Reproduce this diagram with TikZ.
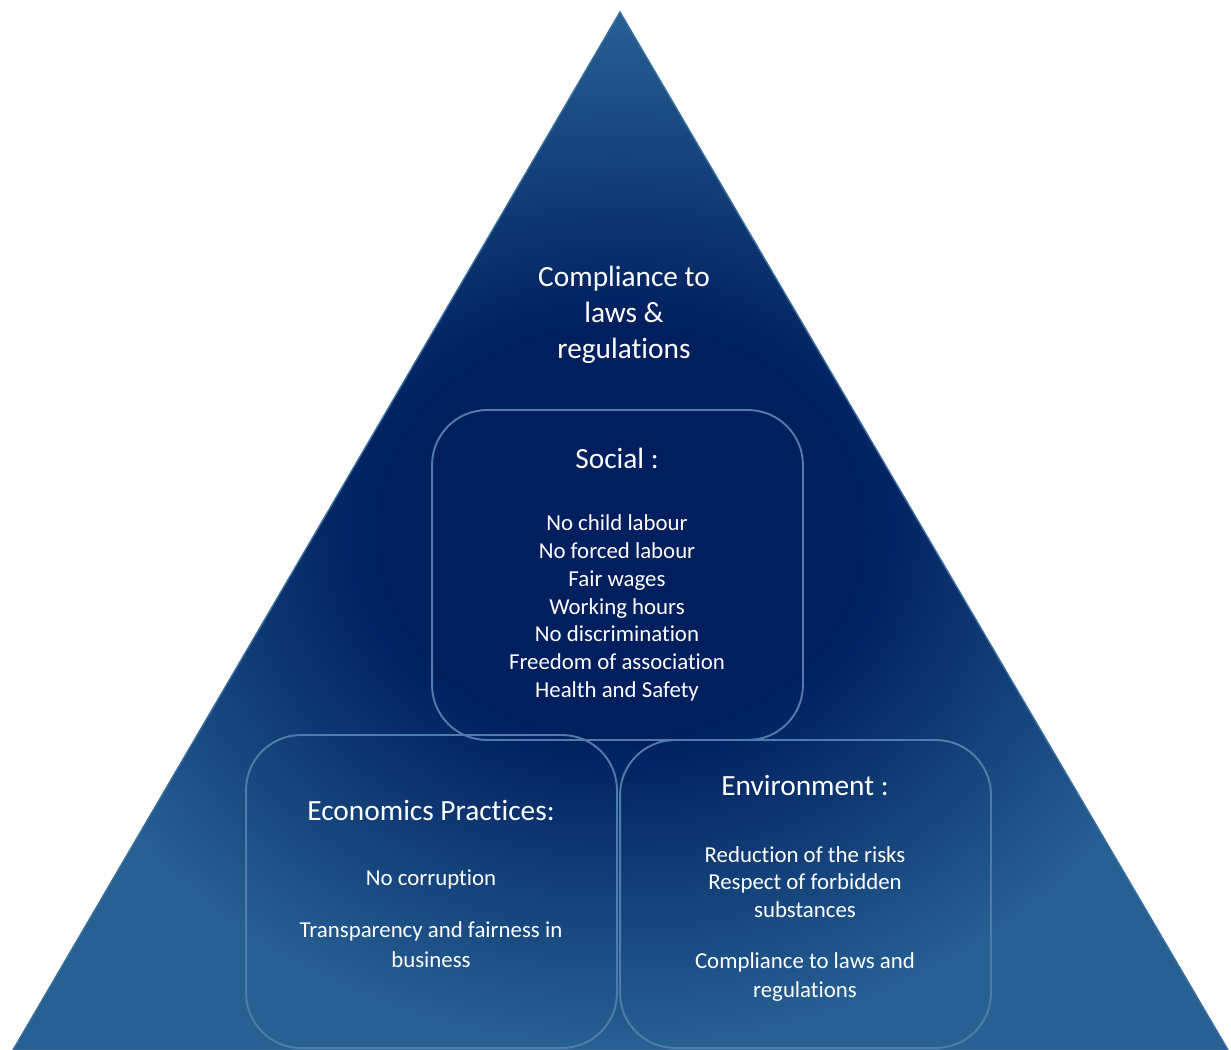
\documentclass[tikz,border=0pt]{standalone}
\usepackage{fontspec}
\setmainfont{Carlito}[Ligatures=NoCommon]
\usetikzlibrary{positioning, shadings}
\definecolor{navy}{RGB}{0, 31, 94}
\definecolor{steel}{RGB}{39, 97, 148}
\definecolor{rim}{RGB}{58, 110, 160}
\definecolor{boxline}{RGB}{78, 124, 172}
\pgfdeclareradialshading{pyramid}{\pgfpoint{0bp}{0bp}}{color(0bp)=(navy); color(10bp)=(navy); color(25bp)=(steel); color(50bp)=(steel)}

\begin{document}
\begin{tikzpicture}[x=0.02cm, y=-0.02cm,
	pillar/.style={draw=boxline, line width=1.1pt, rounded corners=1.1cm, minimum width=7.42cm},
	heading/.style={text=white, font=\fontsize{16.7}{20.5}\selectfont, align=center},
	item/.style={text=white, font=\fontsize{13}{15.8}\selectfont, align=center},
	wrapped/.style={item, font=\fontsize{13}{17}\selectfont}]
	\useasboundingbox (0, 0) rectangle (1231, 1050);
	
	% the pyramid
	\path[draw=rim, line width=0.8pt, shading=pyramid] (620, 12) -- (13, 1050) -- (1228, 1050) -- cycle;
	
	\node[pillar, minimum height=6.6cm] (social) at (617.5, 575) {};
	\node[pillar, minimum height=6.26cm] (econ) at (431.5, 891.5) {};
	\node[pillar, minimum height=6.16cm] (env) at (805.5, 894) {};
	
	\node[heading] (apex) at (624, 315) {Compliance to\\laws \&\\regulations};
	
	\node[heading] (socialhead) at (617, 458) {Social :};
	\node[item] (sociallist) at (617, 608) {No child labour\\No forced labour\\Fair wages\\Working hours\\No discrimination\\Freedom of association\\Health and Safety};
	
	\node[heading] (econhead) at (431, 811) {Economics Practices:};
	\node[item] (corruption) at (431, 879) {No corruption};
	\node[wrapped] (fairness) at (431, 945) {Transparency and fairness in\\business};
	
	\node[heading] (envhead) at (805, 786) {Environment :};
	\node[item] (risks) at (805, 882) {Reduction of the risks\\Respect of forbidden\\substances};
	\node[wrapped] (laws) at (805, 977) {Compliance to laws and\\regulations};
\end{tikzpicture}
\end{document}
